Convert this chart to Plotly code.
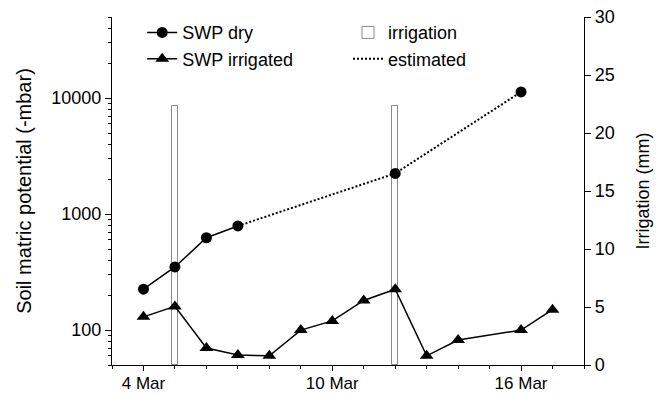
import plotly.graph_objects as go

# Soil water potential, dry plot (measured, then estimated)
dry_dates = ["2015-03-04", "2015-03-05", "2015-03-06", "2015-03-07", "2015-03-12", "2015-03-16"]
dry_swp = [225, 350, 625, 790, 2240, 11300]
n_measured = 4  # first four readings are measured, the rest estimated

# Soil water potential, irrigated plot
irr_dates = ["2015-03-04", "2015-03-05", "2015-03-06", "2015-03-07", "2015-03-08", "2015-03-09",
             "2015-03-10", "2015-03-11", "2015-03-12", "2015-03-13", "2015-03-14", "2015-03-16",
             "2015-03-17"]
irr_swp = [130, 160, 70, 61, 60, 100, 120, 180, 225, 60, 82, 100, 150]

# Irrigation events (mm)
irrigation_dates = ["2015-03-05", "2015-03-12"]
irrigation_mm = [22.3, 22.3]

FONT = "Arial, Liberation Sans, sans-serif"
DAY_MS = 86400000

fig = go.Figure()

fig.add_trace(go.Bar(
    x=irrigation_dates, y=irrigation_mm, name="irrigation",
    width=0.2 * DAY_MS, marker=dict(color="white", line=dict(color="#8a8a8a", width=1)),
    yaxis="y", legend="legend2",
))

fig.add_trace(go.Scatter(
    x=dry_dates[:n_measured], y=dry_swp[:n_measured], name="SWP dry",
    mode="lines+markers", yaxis="y2", legend="legend",
    line=dict(color="black", width=1.5),
    marker=dict(symbol="circle", size=11, color="black"),
))

fig.add_trace(go.Scatter(
    x=dry_dates[n_measured - 1:], y=dry_swp[n_measured - 1:], name="estimated",
    mode="lines", yaxis="y2", legend="legend2",
    line=dict(color="black", width=2, dash="2px,2px"),
))

fig.add_trace(go.Scatter(
    x=dry_dates[n_measured:], y=dry_swp[n_measured:], name="SWP dry",
    mode="markers", yaxis="y2", showlegend=False,
    marker=dict(symbol="circle", size=11, color="black"),
))

fig.add_trace(go.Scatter(
    x=irr_dates, y=irr_swp, name="SWP irrigated",
    mode="lines+markers", yaxis="y2", legend="legend",
    line=dict(color="black", width=1.5),
    marker=dict(symbol="triangle-up", size=12, color="black"),
))

minor_log = [m * 10 ** e for e in (1, 2, 3, 4) for m in range(2, 10) if 50 <= m * 10 ** e <= 50000]

fig.update_layout(
    width=659, height=394,
    margin=dict(l=112, r=75, t=17, b=29, autoexpand=False),
    paper_bgcolor="white", plot_bgcolor="white",
    font=dict(family=FONT, size=18, color="black"),
    bargap=0,
    xaxis=dict(
        type="date", range=["2015-03-03", "2015-03-18"], automargin=False,
        tick0="2015-03-04", dtick=6 * DAY_MS, tickformat="%-d %b",
        ticks="outside", ticklen=5, tickwidth=1.2, tickcolor="black",
        showline=True, linecolor="black", linewidth=1.3,
        showgrid=False, zeroline=False, ticklabelstandoff=-3,
        minor=dict(dtick=DAY_MS, tick0="2015-03-04", ticks="outside", ticklen=3,
                   tickwidth=1.2, tickcolor="black", showgrid=False),
        tickfont=dict(size=17),
    ),
    yaxis=dict(
        side="right", range=[0, 30], tickvals=[0, 5, 10, 15, 20, 25, 30], automargin=False,
        ticks="outside", ticklen=6, tickwidth=1.2, tickcolor="black",
        showline=True, linecolor="black", linewidth=1.3,
        showgrid=False, zeroline=False,
        title=dict(text="Irrigation (mm)", font=dict(size=18), standoff=22),
        tickfont=dict(size=18),
    ),
    yaxis2=dict(
        overlaying="y", side="left", type="log", automargin=False,
        range=[1.69897, 4.69897], tickvals=[100, 1000, 10000],
        ticktext=["100", "1000", "10000"],
        ticks="outside", ticklen=6, tickwidth=1.2, tickcolor="black",
        showline=True, linecolor="black", linewidth=1.3,
        showgrid=False, zeroline=False,
        minor=dict(tickvals=minor_log, ticks="outside", ticklen=3,
                   tickwidth=1.2, tickcolor="black", showgrid=False),
        title=dict(text="Soil matric potential (-mbar)", font=dict(size=20), standoff=14),
        tickfont=dict(size=18),
    ),
    legend=dict(
        x=0.064, y=1.008, xanchor="left", yanchor="top",
        bgcolor="rgba(0,0,0,0)", font=dict(size=18), traceorder="normal",
        tracegroupgap=0, itemwidth=30,
    ),
    legend2=dict(
        x=0.5, y=1.008, xanchor="left", yanchor="top",
        bgcolor="rgba(0,0,0,0)", font=dict(size=18), traceorder="normal",
        tracegroupgap=0, itemwidth=30,
    ),
)

fig.write_html("out.html")
